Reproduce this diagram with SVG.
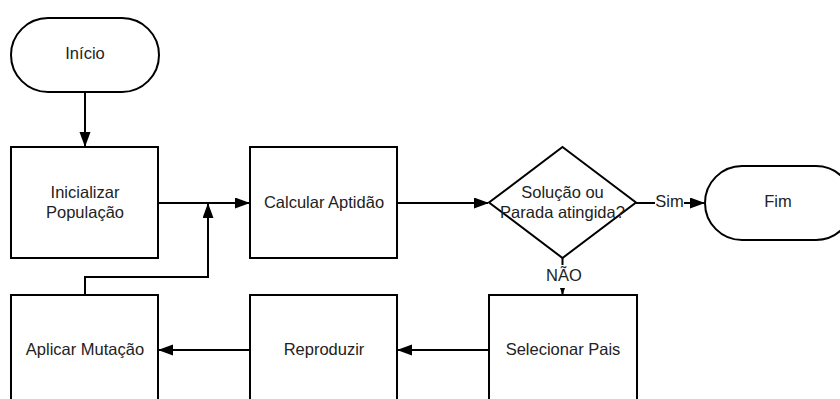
<svg xmlns="http://www.w3.org/2000/svg" width="840" height="399" viewBox="0 0 840 399">
  <style>
    .shape { fill: #ffffff; stroke: #000000; stroke-width: 2; }
    .edge { fill: none; stroke: #000000; stroke-width: 2; }
    .txt { font-family: "Liberation Sans", Arial, sans-serif; font-size: 16.5px; fill: #222222; text-anchor: middle; dominant-baseline: central; }
    .lblbg { fill: #ffffff; stroke: none; }
  </style>
  <defs>
    <marker id="arrow" markerUnits="userSpaceOnUse" markerWidth="16" markerHeight="12" refX="14" refY="5.5" orient="auto">
      <path d="M0,0 L15,5.5 L0,11 z" fill="#000000"/>
    </marker>
  </defs>

  <g id="connectors">
    <path class="edge" d="M85,92 V146" marker-end="url(#arrow)"/>
    <path class="edge" d="M158,203 H249" marker-end="url(#arrow)"/>
    <path class="edge" d="M85,295 V277 H208 V204" marker-end="url(#arrow)"/>
    <path class="edge" d="M397,203 H488" marker-end="url(#arrow)"/>
    <path class="edge" d="M636,203 H704" marker-end="url(#arrow)"/>
    <path class="edge" d="M562.5,258 V294" marker-end="url(#arrow)"/>
    <path class="edge" d="M489,350 H398" marker-end="url(#arrow)"/>
    <path class="edge" d="M250,350 H159" marker-end="url(#arrow)"/>
    <g id="label-sim">
      <rect class="lblbg" x="655" y="193" width="29" height="19"/>
      <text class="txt" x="669.5" y="201">Sim</text>
    </g>
    <g id="label-nao">
      <rect class="lblbg" x="546" y="265" width="36" height="23"/>
      <text class="txt" x="564" y="275">NÃO</text>
    </g>
  </g>

  <g id="inicio">
    <rect class="shape" x="11" y="18" width="148" height="74" rx="37" ry="37"/>
    <text class="txt" x="85" y="53">Início</text>
  </g>

  <g id="inicializar">
    <rect class="shape" x="11" y="147" width="147" height="111"/>
    <text class="txt" x="85" y="192">Inicializar</text>
    <text class="txt" x="85" y="212">População</text>
  </g>

  <g id="calcular">
    <rect class="shape" x="250" y="147" width="147" height="111"/>
    <text class="txt" x="324" y="202">Calcular Aptidão</text>
  </g>

  <g id="decisao">
    <polygon class="shape" points="562.5,147 636,202.5 562.5,258 489,202.5"/>
    <text class="txt" x="562.5" y="192">Solução ou</text>
    <text class="txt" x="562.5" y="212">Parada atingida?</text>
  </g>

  <g id="fim">
    <rect class="shape" x="705" y="166" width="148" height="74" rx="37" ry="37"/>
    <text class="txt" x="778" y="201">Fim</text>
  </g>

  <g id="selecionar">
    <rect class="shape" x="489" y="295" width="148" height="111"/>
    <text class="txt" x="563" y="349">Selecionar Pais</text>
  </g>

  <g id="reproduzir">
    <rect class="shape" x="250" y="295" width="147" height="111"/>
    <text class="txt" x="324" y="349">Reproduzir</text>
  </g>

  <g id="aplicar">
    <rect class="shape" x="11" y="295" width="147" height="111"/>
    <text class="txt" x="85" y="349">Aplicar Mutação</text>
  </g>
</svg>
